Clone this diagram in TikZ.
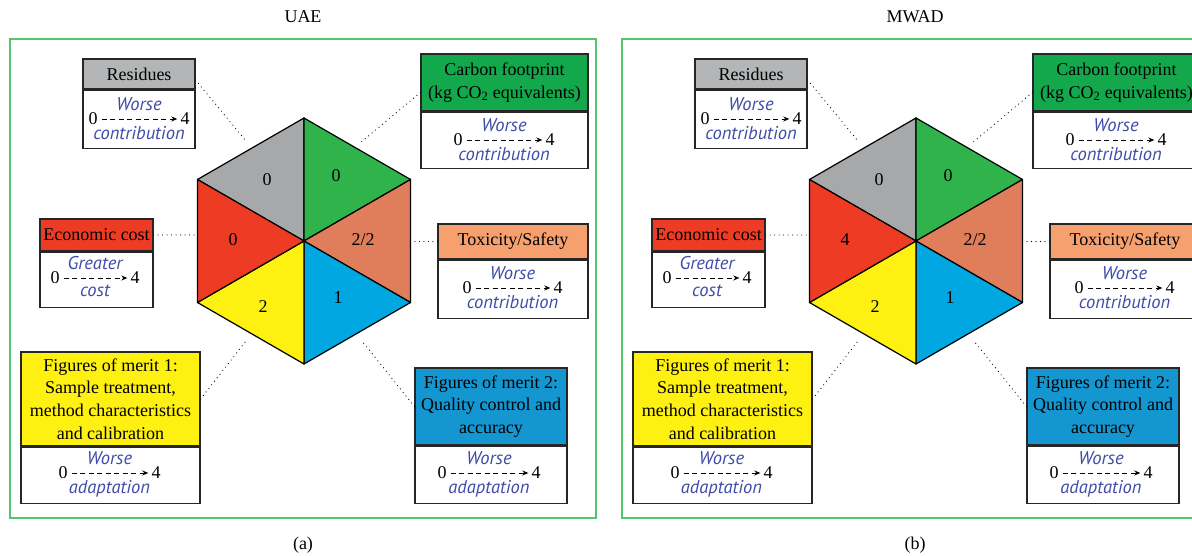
\documentclass[tikz,border=0pt]{standalone}
\usepackage{fontspec}
\setmainfont{Liberation Serif}
\newfontfamily\notefont{PT Sans}
\usetikzlibrary{arrows.meta, positioning, calc}

\definecolor{frameGreen}{RGB}{84,196,110}
\definecolor{noteBlue}{RGB}{62,76,168}
\definecolor{secGray}{RGB}{166,168,170}
\definecolor{secGreen}{RGB}{47,179,74}
\definecolor{secSalmon}{RGB}{224,126,91}
\definecolor{secBlue}{RGB}{0,167,225}
\definecolor{secYellow}{RGB}{254,240,17}
\definecolor{secRed}{RGB}{238,59,36}
\definecolor{headGray}{RGB}{179,181,182}
\definecolor{headGreen}{RGB}{18,168,75}
\definecolor{headSalmon}{RGB}{246,160,111}
\definecolor{headBlue}{RGB}{20,150,208}

\tikzset{
  every node/.style={font=\fontsize{18}{22.7}\selectfont},
  head/.style={draw=black!85, line width=1.2pt, align=center, inner sep=0pt},
  body/.style={draw=black!85, fill=white, line width=1.2pt, inner sep=0pt},
  note/.style={text=noteBlue, font=\notefont\itshape\fontsize{18.5}{20}\selectfont, inner sep=0pt},
  digit/.style={inner sep=0pt},
  dashArrow/.style={line width=0.9pt, dash pattern=on 5pt off 3.5pt, -{Stealth[length=6pt,width=5pt]}, shorten <=4pt, shorten >=3pt},
  link/.style={line width=1.2pt, line cap=round, dash pattern=on 0pt off 4.5pt},
  sector/.style={draw=black, line width=1.2pt, line join=round},
}

% header box + empty body below it
% #1 name, #2 left, #3 right, #4 top, #5 header bottom, #6 body bottom, #7 fill, #8 text
\newcommand{\critbox}[8]{%
  \node[head, fill=#7, minimum width={(#3-#2)*1pt}, minimum height={(#4-#5)*1pt}] (#1-head) at ({(#2+#3)/2},{(#4+#5)/2}) {#8};
  \node[body, minimum width={(#3-#2)*1pt}, minimum height={(#5-#6)*1pt}, below=0pt of #1-head] (#1-body) {};
}

% 0 - - -> 4 scale with a word above and below
% #1 name, #2 x of 0, #3 x of 4, #4 y, #5 upper word, #6 lower word
\newcommand{\scalerow}[6]{%
  \node[digit] (#1-lo) at (#2,#4) {0};
  \node[digit] (#1-hi) at (#3,#4) {4};
  \draw[dashArrow] (#1-lo) -- (#1-hi)
    node[note, midway, above=8pt] (#1-up) {#5}
    node[note, midway, below=7pt] (#1-dn) {#6};
}

% one whole panel: #1 prefix, #2 title, #3 tag, #4 economic cost score
\newcommand{\ratingpanel}[4]{%
  % frame and captions
  \draw[frameGreen, line width=1.2pt] (10,38) rectangle (596,517);
  \node (#1-title) at (303,539) {#2};
  \node (#1-tag) at (303,11) {#3};
  % hexagon
  \coordinate (#1-c) at (304,315);
  \filldraw[sector, fill=secGray]   (#1-c) -- +(90:123) -- +(150:123) -- cycle;
  \filldraw[sector, fill=secGreen]  (#1-c) -- +(30:123) -- +(90:123) -- cycle;
  \filldraw[sector, fill=secSalmon] (#1-c) -- +(-30:123) -- +(30:123) -- cycle;
  \filldraw[sector, fill=secBlue]   (#1-c) -- +(-90:123) -- +(-30:123) -- cycle;
  \filldraw[sector, fill=secYellow] (#1-c) -- +(-150:123) -- +(-90:123) -- cycle;
  \filldraw[sector, fill=secRed]    (#1-c) -- +(150:123) -- +(210:123) -- cycle;
  \node (#1-gry-val) at (267,376) {0};
  \node (#1-grn-val) at (336,380) {0};
  \node (#1-red-val) at (233,316) {#4};
  \node (#1-sal-val) at (363,316) {2/2};
  \node (#1-blu-val) at (338,258) {1};
  \node (#1-yel-val) at (263,249) {2};
  % criteria
  \critbox{#1-res}{83}{195}{497}{467}{409}{headGray}{Residues}
  \scalerow{#1-res}{93}{185}{437}{Worse}{contribution}
  \critbox{#1-car}{421}{588}{502}{445}{389}{headGreen}{Carbon footprint\\(kg CO\textsubscript{2} equivalents)}
  \scalerow{#1-car}{458}{550}{416}{Worse}{contribution}
  \critbox{#1-eco}{40}{153}{337}{305}{250}{secRed}{Economic cost}
  \scalerow{#1-eco}{55}{135}{278}{Greater}{cost}
  \critbox{#1-tox}{438}{588}{332}{297}{239}{headSalmon}{Toxicity/Safety}
  \scalerow{#1-tox}{467}{558}{268}{Worse}{contribution}
  \critbox{#1-fm1}{21}{200}{204}{110}{54}{secYellow}{Figures of merit 1:\\Sample treatment,\\method characteristics\\and calibration}
  \scalerow{#1-fm1}{63}{156}{83}{Worse}{adaptation}
  \critbox{#1-fm2}{415}{567}{188}{111}{54}{headBlue}{Figures of merit 2:\\Quality control and\\accuracy}
  \scalerow{#1-fm2}{442}{536}{83}{Worse}{adaptation}
  % dotted links
  \coordinate (#1-gry-out) at ($(#1-c)+(120:114)$);
  \coordinate (#1-grn-out) at ($(#1-c)+(60:114)$);
  \coordinate (#1-red-out) at ($(#1-c)+(180:108)$);
  \coordinate (#1-sal-out) at ($(#1-c)+(0:106)$);
  \coordinate (#1-blu-out) at ($(#1-c)+(-60:114)$);
  \coordinate (#1-yel-out) at ($(#1-c)+(-120:114)$);
  \draw[link] ([yshift=-6pt]#1-res-head.east) -- (#1-gry-out);
  \draw[link] ([yshift=-10pt]#1-car-head.west) -- (#1-grn-out);
  \draw[link] (#1-eco-head.east) -- (#1-eco-head.east -| #1-red-out);
  \draw[link] (#1-tox-head.west) -- (#1-tox-head.west -| #1-sal-out);
  \draw[link] (#1-fm1-head.east) -- (#1-yel-out);
  \draw[link] (#1-fm2-head.west) -- (#1-blu-out);
}

\begin{document}
\begin{tikzpicture}[x=1pt, y=1pt]
\clip (0,0) rectangle (1192,556);
\fill[white] (0,0) rectangle (1192,556);
% (a) UAE
\ratingpanel{a}{UAE}{(a)}{0}
% (b) MWAD
\begin{scope}[xshift=612pt]
\ratingpanel{b}{MWAD}{(b)}{4}
\end{scope}
\end{tikzpicture}
\end{document}
